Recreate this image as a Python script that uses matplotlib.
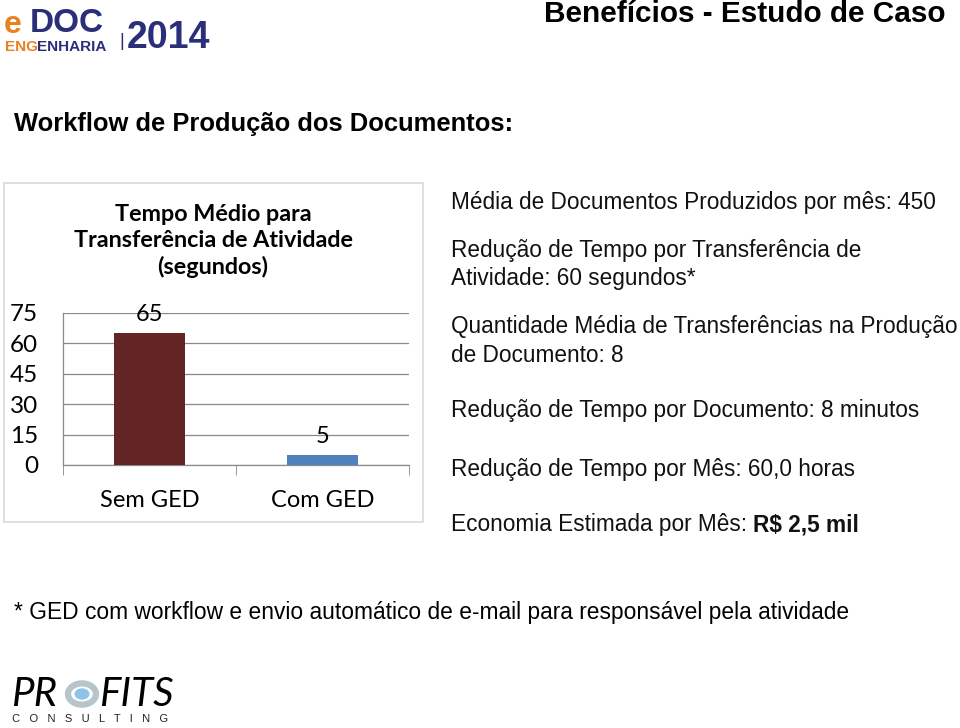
import matplotlib.pyplot as plt
from matplotlib.patches import Rectangle, Circle

# data
categories = ["Sem GED", "Com GED"]
tempo_segundos = [65, 5]
bar_colors = ["#632523", "#4F81BD"]
y_ticks = [0, 15, 30, 45, 60, 75]

chart_title = "Tempo Médio para\nTransferência de Atividade\n(segundos)"
slide_title = "Benefícios - Estudo de Caso"
section_title = "Workflow de Produção dos Documentos:"
footnote = "* GED com workflow e envio automático de e-mail para responsável pela atividade"

info_lines = [
    ("Média de Documentos Produzidos por mês: 450", 202),
    ("Redução de Tempo por Transferência de", 251),
    ("Atividade: 60 segundos*", 278),
    ("Quantidade Média de Transferências na Produção", 327),
    ("de Documento: 8", 355),
    ("Redução de Tempo por Documento: 8 minutos", 411),
    ("Redução de Tempo por Mês: 60,0 horas", 469),
]
economia_txt = "Economia Estimada por Mês: "
economia_val = "R$ 2,5 mil"

W, H = 960, 728
ARIAL = ["Liberation Sans", "DejaVu Sans"]
CALIBRI = ["Lato", "DejaVu Sans"]
NAVY = "#2B2F7A"
ORANGE = "#E8821E"
GRID = "#898989"


def fx(px):
    return px / W


def fy(py):
    return 1 - py / H


fig = plt.figure(figsize=(9.6, 7.28), dpi=100)
fig.patch.set_facecolor("white")

# header
fig.text(fx(945), fy(14), slide_title, ha="right", va="center",
         fontsize=21.4, fontweight="bold", family=ARIAL, color="black")
fig.text(fx(14), fy(124), section_title, ha="left", va="center",
         fontsize=18.4, fontweight="bold", family=ARIAL, color="black")

# eDOC logo as text
fig.text(fx(4), fy(33), "e", ha="left", va="baseline", fontsize=23,
         fontweight="bold", family=ARIAL, color=ORANGE)
fig.text(fx(30), fy(32), "DOC", ha="left", va="baseline", fontsize=24,
         fontweight="bold", family=ARIAL, color=NAVY)
fig.text(fx(5), fy(51), "ENG", ha="left", va="baseline", fontsize=11,
         fontweight="bold", family=ARIAL, color=ORANGE)
fig.text(fx(37), fy(51), "ENHARIA", ha="left", va="baseline", fontsize=11,
         fontweight="bold", family=ARIAL, color=NAVY)
fig.text(fx(119), fy(46), "|", ha="left", va="baseline", fontsize=13,
         family=ARIAL, color=NAVY)
fig.text(fx(127), fy(48), "2014", ha="left", va="baseline", fontsize=27,
         fontweight="bold", family=ARIAL, color=NAVY)

# chart frame
fig.patches.append(Rectangle((fx(4), fy(522)), fx(419), 339 / H,
                             transform=fig.transFigure, fill=False,
                             edgecolor="#D9D9D9", linewidth=1.2))

fig.text(fx(213), fy(241), chart_title, ha="center", va="center",
         fontsize=16.8, fontweight="bold", family=CALIBRI, color="black",
         linespacing=1.3)

ax = fig.add_axes([fx(63), fy(465), fx(408.7 - 63), (465 - 313) / H])
x = range(len(categories))
bars = ax.bar(x, tempo_segundos, width=0.41, color=bar_colors, zorder=3)
for b, v in zip(bars, tempo_segundos):
    ax.annotate(str(v), (b.get_x() + b.get_width() / 2, v),
                xytext=(0, 6), textcoords="offset points", ha="center",
                va="bottom", fontsize=17, family=CALIBRI, color="black")

ax.set_xlim(-0.5, 1.5)
ax.set_ylim(0, 75)
ax.set_yticks(y_ticks)
ax.set_yticklabels([str(t) for t in y_ticks], fontsize=17.5, family=CALIBRI)
ax.set_xticks(list(x))
ax.set_xticklabels(categories, fontsize=17, family=CALIBRI)
ax.set_xticks([-0.5, 0.5, 1.5], minor=True)
ax.tick_params(axis="x", which="major", length=0, pad=18)
ax.tick_params(axis="x", which="minor", length=7, color=GRID, direction="out")
ax.tick_params(axis="y", length=0, pad=18)
ax.grid(axis="y", color=GRID, linewidth=0.9, zorder=0)
for side in ["top", "right"]:
    ax.spines[side].set_visible(False)
for side in ["left", "bottom"]:
    ax.spines[side].set_color(GRID)
    ax.spines[side].set_linewidth(0.9)

# right hand text block
for txt, py in info_lines:
    fig.text(fx(451), fy(py), txt, ha="left", va="center", fontsize=16.3,
             family=ARIAL, color="#111111")
t = fig.text(fx(451), fy(525), economia_txt, ha="left", va="center",
             fontsize=16.3, family=ARIAL, color="#111111")
renderer = fig.canvas.get_renderer()
bb = t.get_window_extent(renderer=renderer)
fig.text(bb.x1 / W, fy(525), economia_val, ha="left", va="center",
         fontsize=16.3, fontweight="bold", family=ARIAL, color="#111111")

# footnote
fig.text(fx(14), fy(613), footnote, ha="left", va="center", fontsize=16.4,
         family=ARIAL, color="black")

# PROFITS logo as text
fig.text(fx(11), fy(694), "PR", ha="left", va="center", fontsize=29,
         family=CALIBRI, style="italic", color="black")
fig.patches.append(Circle((fx(82), fy(694)), 14 / W, transform=fig.transFigure,
                          fill=False, edgecolor="#B8C4CC", linewidth=4.5))
fig.patches.append(Circle((fx(82), fy(694)), 7.5 / W, transform=fig.transFigure,
                          facecolor="#8FC3E8", edgecolor="none"))
fig.text(fx(99), fy(694), "FITS", ha="left", va="center", fontsize=29,
         family=CALIBRI, style="italic", color="black")
fig.text(fx(12), fy(719), "C   O   N   S   U   L   T   I   N   G", ha="left",
         va="center", fontsize=8, family=ARIAL, color="#222222")

fig.savefig("out.png", dpi=100)
